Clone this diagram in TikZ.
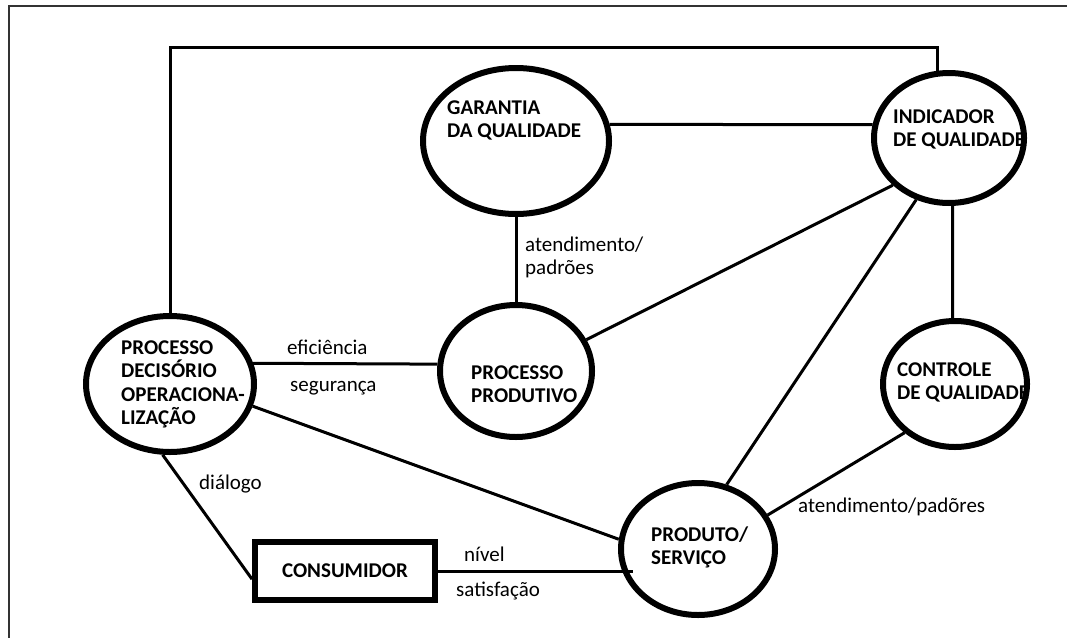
\documentclass[tikz,border=0pt]{standalone}
\usepackage{fontspec}
\setmainfont{Carlito}
\usetikzlibrary{shapes.geometric}
\begin{document}
\begin{tikzpicture}[x=1pt,y=-1pt,
  bubble/.style={ellipse,draw,line width=6pt,inner sep=0pt},
  box/.style={rectangle,draw,line width=6pt,inner sep=0pt,
    minimum width=180pt,minimum height=58pt,
    font=\fontsize{21}{23.5}\selectfont\bfseries},
  title/.style={anchor=base west,inner sep=0pt,align=left,
    font=\fontsize{21}{23.5}\selectfont\bfseries},
  note/.style={anchor=base west,inner sep=0pt,align=left,
    font=\fontsize{21}{23.5}\selectfont},
  link/.style={line width=3pt},
  frame/.style={line width=2pt,black!80}]
\useasboundingbox (0,0) rectangle (1067,637);

% outer frame (open to the right and the bottom)
\draw[frame] (9,645) -- (9,6) -- (1075,6);

% bubbles
\node[bubble,minimum width=186pt,minimum height=146pt] (gar) at (516,141) {};
\node[bubble,minimum width=150pt,minimum height=130pt] (ind) at (949,138) {};
\node[bubble,minimum width=144pt,minimum height=126pt] (ctl) at (955,384) {};
\node[bubble,minimum width=154pt,minimum height=132pt] (prd) at (698,549) {};
\node[bubble,minimum width=168pt,minimum height=136pt] (dec) at (170,384) {};
\node[bubble,minimum width=152pt,minimum height=132pt] (pro) at (516,371) {};
\node[box] (con) at (345,571) {CONSUMIDOR};

% bubble titles (positioned by the baseline of their last line)
\node[title] (gart) at (447,137.5) {GARANTIA\\DA QUALIDADE};
\node[title] (indt) at (893,146.5) {INDICADOR\\DE QUALIDADE};
\node[title] (ctlt) at (897,399.5) {CONTROLE\\DE QUALIDADE};
\node[title] (prdt) at (651,564.5) {PRODUTO/\\SERVIÇO};
\node[title] (dect) at (121,424.5) {PROCESSO\\DECISÓRIO\\OPERACIONA-\\LIZAÇÃO};
\node[title] (prot) at (471,402.5) {PROCESSO\\PRODUTIVO};

% connectors
\coordinate (loopy) at (0,47);
\coordinate (prdin) at (633,571);
\draw[link] (dec.north) |- (ind.100 |- loopy) -- (ind.100);
\draw[link] (gar.10) -- (ind.170);
\draw[link] (gar.south) -- (pro.north);
\draw[link] (pro.24) -- (ind.220);
\draw[link] (dec.14) -- (pro.175);
\draw[link] (dec.-15) -- (prd.173.6);
\draw[link] (dec.-96) -- (con.185);
\draw[link] (con.east) -- (prdin);
\draw[link] (prd.66) -- (ind.242);
\draw[link] (prd.26.6) -- (ctl.224);
\draw[link] (ind.-87.4) -- (ctl.92.7);

% connector labels
\node[note] (l1) at (525,274.5) {atendimento/\\padrões};
\node[note] (l2) at (287,354) {eficiência};
\node[note] (l3) at (290,391) {segurança};
\node[note] (l4) at (199,489) {diálogo};
\node[note] (l5) at (464,561) {nível};
\node[note] (l6) at (456,596) {satisfação};
\node[note] (l7) at (798,512) {atendimento/padõres};
\end{tikzpicture}
\end{document}
